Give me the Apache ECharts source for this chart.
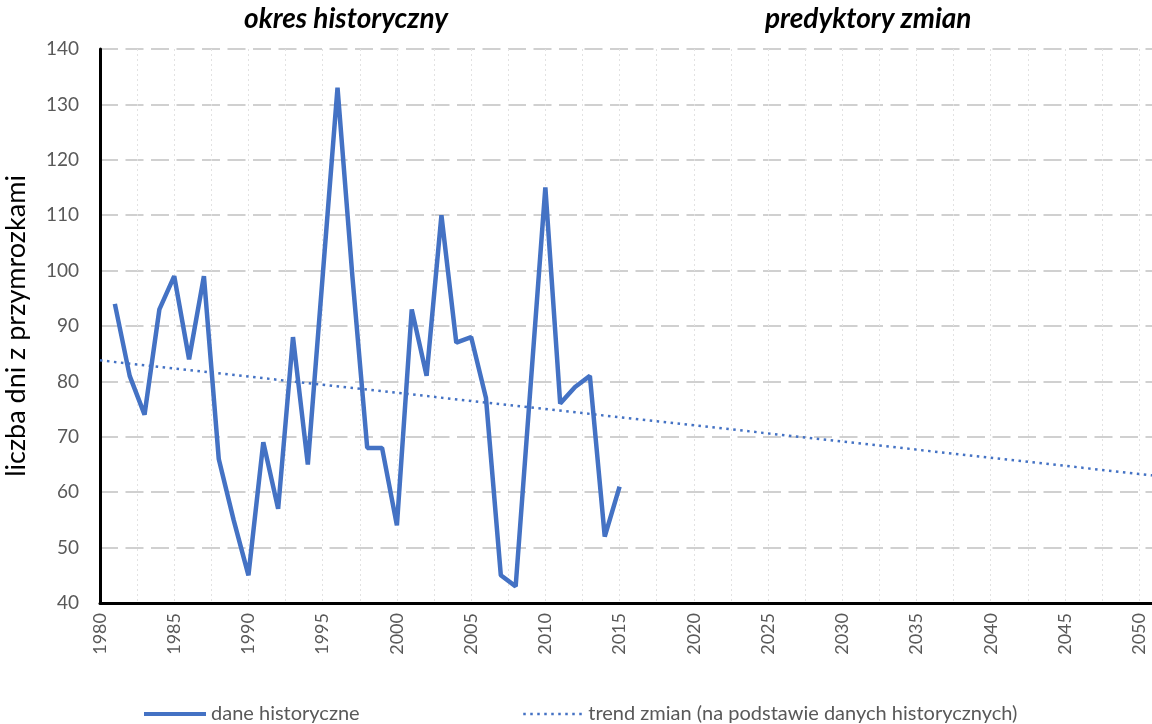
<!DOCTYPE html>
<html>
<head>
<meta charset="utf-8">
<script src="https://cdn.jsdelivr.net/npm/echarts@6/dist/echarts.min.js"></script>
<style>
html,body{margin:0;padding:0;background:#fff;}
#chart{width:1152px;height:724px;}
</style>
</head>
<body>
<div id="chart"></div>
<script>
// Data
const years = [1981,1982,1983,1984,1985,1986,1987,1988,1989,1990,1991,1992,1993,1994,1995,1996,1997,1998,1999,2000,2001,2002,2003,2004,2005,2006,2007,2008,2009,2010,2011,2012,2013,2014,2015];
const frostDays = [94,81,74,93,99,84,99,66,55,45,69,57,88,65,99,133,99,68,68,54,93,81,110,87,88,77,45,43,79,115,76,79,81,52,61];
const trendYears = [1980, 2051];
const trendValues = [83.8, 63];
const seriesNames = ['dane historyczne', 'trend zmian (na podstawie danych historycznych)'];
const periodTitles = ['okres historyczny', 'predyktory zmian'];
const yAxisTitle = 'liczba dni z przymrozkami';

const histData = years.map((y, i) => [y, frostDays[i]]);
const trendData = trendYears.map((y, i) => [y, trendValues[i]]);

const FONT = 'Lato, "Open Sans", sans-serif';
const chart = echarts.init(document.getElementById('chart'));
chart.setOption({
  animation: false,
  textStyle: { fontFamily: FONT },
  grid: { left: 100, right: -2, top: 49, bottom: 121, containLabel: false, outerBoundsMode: 'none' },
  graphic: [
    { type: 'text', left: 244, top: 5, style: { text: periodTitles[0], font: 'italic bold 28px ' + FONT, fill: '#000' } },
    { type: 'text', left: 765, top: 5, style: { text: periodTitles[1], font: 'italic bold 28px ' + FONT, fill: '#000' } }
  ],
  legend: [
    { data: [seriesNames[0]], left: 137, top: 699, itemWidth: 62, itemHeight: 14, itemGap: 6,
      itemStyle: { opacity: 0 }, lineStyle: { width: 4 },
      textStyle: { color: '#595959', fontSize: 20, fontFamily: FONT } },
    { data: [seriesNames[1]], left: 517, top: 699, itemWidth: 60, itemHeight: 14,
      itemStyle: { opacity: 0 }, lineStyle: { width: 2.5 },
      textStyle: { color: '#595959', fontSize: 20, fontFamily: FONT } }
  ],
  xAxis: {
    type: 'value', min: 1980, max: 2051, interval: 5,
    axisLine: { show: true, onZero: false, lineStyle: { color: '#000', width: 3 } },
    axisTick: { show: false },
    minorTick: { show: false, splitNumber: 2 },
    axisLabel: { rotate: 90, color: '#595959', fontSize: 18, margin: 10, showMaxLabel: false,
      fontFamily: FONT, formatter: v => String(v) },
    splitLine: { show: true, lineStyle: { color: '#e2e2e2', width: 1, type: [2, 3] } },
    minorSplitLine: { show: true, lineStyle: { color: '#e2e2e2', width: 1, type: [2, 3] } }
  },
  yAxis: {
    type: 'value', min: 40, max: 140, interval: 10,
    name: yAxisTitle, nameLocation: 'middle', nameGap: 70,
    nameTextStyle: { color: '#000', fontSize: 27, fontFamily: FONT },
    axisLine: { show: true, lineStyle: { color: '#000', width: 3 } },
    axisTick: { show: false },
    axisLabel: { color: '#595959', fontSize: 19, margin: 21, fontFamily: FONT },
    splitLine: { show: true, lineStyle: { color: '#d0d0d0', width: 2, type: [18, 7.5] } }
  },
  series: [
    { name: seriesNames[0], type: 'line', data: histData, showSymbol: false, symbol: 'none',
      lineStyle: { color: '#4472C4', width: 4.5 }, itemStyle: { color: '#4472C4' }, z: 3 },
    { name: seriesNames[1], type: 'line', data: trendData, showSymbol: false, symbol: 'none',
      lineStyle: { color: '#4472C4', width: 2.5, type: [2.5, 4.5] }, itemStyle: { color: '#4472C4' }, z: 2 }
  ]
});
</script>
</body>
</html>
